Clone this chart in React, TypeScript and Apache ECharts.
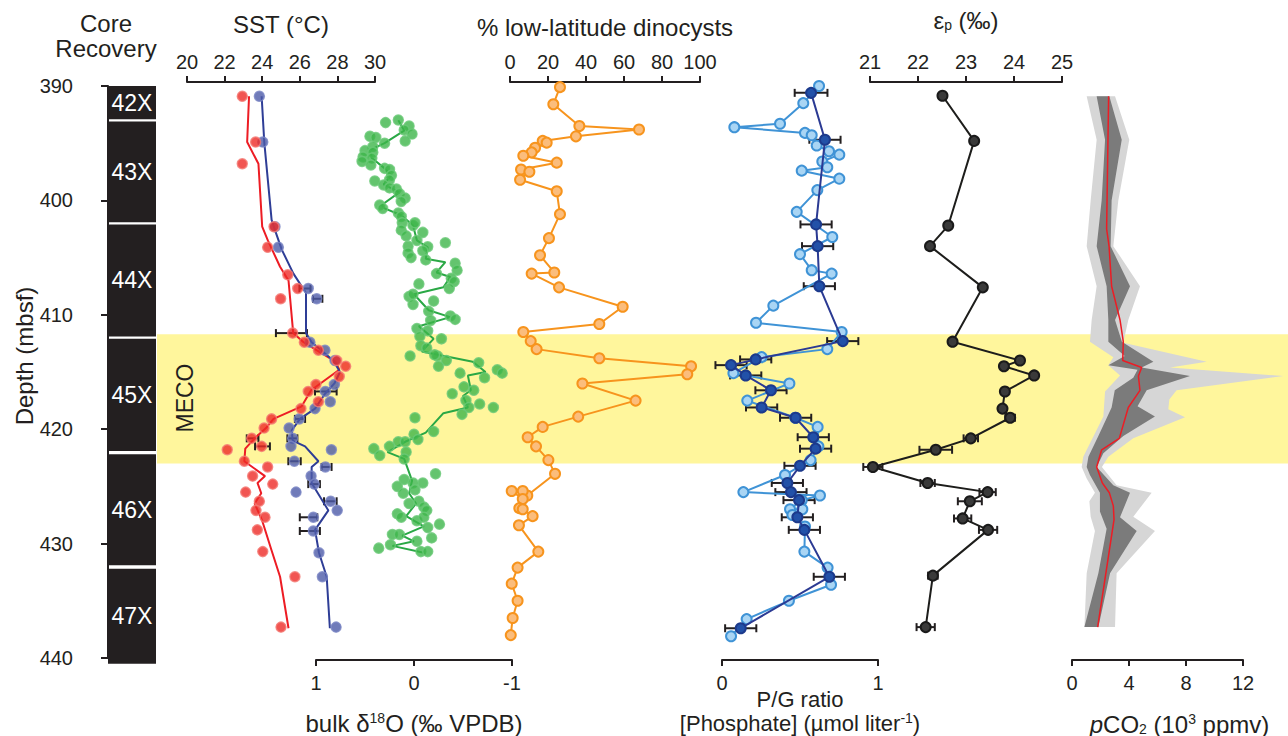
import { useEffect, useRef } from "react";
import * as echarts from "echarts";

const FONT = "'Liberation Sans', Arial, Helvetica, sans-serif";
const INK = "#231f20";

// ---------- depth scale ----------
const depthMin = 390;
const depthMax = 440;
const depthStep = 10;

// ---------- core recovery ----------
const coreLabels = ["42X", "43X", "44X", "45X", "46X", "47X"];
const coreTop = [390, 393.1, 402.1, 412.1, 422.2, 432.2];
const coreBottom = [392.9, 401.9, 411.9, 421.9, 431.9, 440.5];
const mecoDepths = [411.7, 423.0];

// ---------- SST (°C) [depth, value] ----------
const sstRedPoints = [
  [390.9, 22.94], [394.9, 23.65], [396.8, 22.94], [402.3, 24.63], [404.1, 24.29], [406.5, 25.36],
  [407.7, 25.89], [408.6, 24.98], [411.6, 25.62], [412.4, 26.24], [413.1, 26.99], [414.0, 27.96],
  [414.5, 28.44], [415.4, 28.1], [416.1, 26.86], [416.7, 26.45], [417.6, 26.99], [418.2, 26.06],
  [419.1, 24.5], [419.9, 24.1], [420.8, 23.44], [421.5, 23.97], [421.8, 22.14], [422.8, 23.05],
  [423.3, 24.29], [424.1, 23.49], [424.8, 24.56], [425.5, 23.12], [426.3, 23.85], [427.1, 23.67],
  [427.7, 24.15], [428.8, 23.74], [430.7, 24.03], [432.9, 25.74], [437.3, 25.0],
];
const sstRedLine = [
  [390.9, 23.3], [394.9, 23.2], [396.8, 23.8], [402.3, 24.0], [403.5, 24.3], [405.8, 24.95],
  [407.0, 25.4], [411.6, 25.65], [412.4, 26.2], [413.2, 27.0], [414.1, 27.9], [414.8, 28.1],
  [416.6, 26.6], [418.0, 26.1], [419.1, 24.6], [419.9, 24.2], [420.8, 23.6], [421.7, 23.1],
  [422.8, 23.05], [424.1, 24.15], [424.7, 23.75], [425.6, 23.95], [426.5, 23.6], [428.0, 24.0],
  [430.6, 24.5], [432.9, 24.95], [437.4, 25.4],
];
const sstRedErrors = [
  [411.6, 24.73, 26.38], [420.8, 23.18, 23.8], [421.5, 23.62, 24.41],
];
const sstBluePoints = [
  [390.9, 23.85], [394.9, 24.03], [402.3, 24.68], [404.1, 24.86], [407.7, 26.45], [408.6, 26.9],
  [412.4, 26.54], [413.1, 27.34], [414.0, 27.87], [416.1, 27.84], [416.7, 27.36], [417.6, 27.62],
  [418.2, 26.81], [419.1, 25.97], [419.9, 25.43], [420.8, 25.62], [421.5, 25.53], [421.8, 27.68],
  [422.8, 25.71], [423.3, 27.36], [424.1, 26.6], [424.8, 26.77], [425.5, 25.8], [426.3, 27.64],
  [427.1, 27.99], [427.7, 26.72], [428.9, 26.72], [430.8, 27.02], [432.9, 27.2], [437.3, 27.93],
];
const sstBlueLine = [
  [390.9, 23.97], [394.9, 24.11], [401.7, 24.5], [402.6, 24.68], [404.3, 25.04], [406.4, 25.66],
  [408.1, 26.33], [411.6, 26.33], [412.4, 26.63], [414.0, 27.78], [415.0, 28.14], [416.0, 27.84],
  [416.9, 27.34], [418.2, 26.81], [419.1, 26.01], [420.1, 25.57], [421.0, 25.62], [421.5, 26.28],
  [422.8, 26.99], [423.3, 26.63], [424.7, 26.63], [427.1, 27.52], [428.8, 26.81], [430.8, 27.02],
  [432.9, 27.43], [437.4, 27.6],
];
const sstBlueErrors = [
  [407.7, 25.98, 26.57], [408.6, 26.7, 27.2], [416.7, 26.81, 27.96], [419.1, 25.74, 26.28],
  [420.8, 25.34, 25.87], [422.8, 25.39, 26.05], [423.3, 27.16, 27.69], [424.8, 26.45, 27.07],
  [426.3, 27.29, 27.96], [427.7, 26.0, 26.93], [428.9, 26.0, 27.07],
];

// ---------- bulk d18O [depth, value] ----------
const d18oPoints = [
  [393.2, 0.29], [392.97, 0.16], [393.5, 0.05], [393.85, 0.1], [394.2, 0.02], [394.8, 0.09],
  [394.4, 0.45], [394.5, 0.39], [395.0, 0.3], [395.3, 0.42], [395.65, 0.5], [395.8, 0.42],
  [396.2, 0.52], [396.3, 0.43], [396.6, 0.53], [396.9, 0.44], [397.2, 0.3], [397.3, 0.25],
  [397.8, 0.23], [398.2, 0.25], [398.3, 0.4], [398.65, 0.31], [398.9, 0.25], [399.0, 0.18],
  [399.4, 0.15], [399.8, 0.09], [400.1, 0.13], [400.4, 0.35], [400.7, 0.32], [401.1, 0.16],
  [401.4, 0.13], [401.95, 0.12], [402.2, 0.01], [401.95, -0.01], [402.6, 0.13], [403.1, 0.08],
  [402.8, -0.09], [403.7, -0.32], [404.0, 0.06], [403.5, -0.03], [404.05, -0.14], [404.4, -0.09],
  [404.6, 0.06], [405.0, 0.03], [405.2, -0.12], [405.5, -0.42], [406.1, -0.44], [406.4, -0.23],
  [406.8, -0.38], [407.1, -0.41], [407.7, -0.36], [407.3, -0.05], [408.4, 0.05], [408.2, 0.01],
  [409.1, 0.01], [408.8, -0.2], [409.7, -0.15], [410.1, -0.37], [410.4, -0.42], [410.5, -0.17],
  [411.2, -0.03], [411.4, -0.14], [411.9, -0.06], [412.1, -0.28], [412.7, -0.07], [412.9, -0.13],
  [413.6, 0.04], [413.6, -0.24], [413.5, -0.21], [414.0, -0.33], [414.2, -0.66], [414.8, -0.85],
  [414.5, -0.25], [415.1, -0.9], [415.5, -0.72], [415.1, -0.47], [416.3, -0.51], [416.6, -0.61],
  [416.9, -0.39], [417.5, -0.53], [417.8, -0.67], [418.1, -0.56], [418.1, -0.81], [418.7, -0.49],
  [419.0, -0.01], [420.2, -0.2], [420.45, 0.0], [420.9, -0.04], [421.1, 0.16], [421.1, 0.09],
  [421.5, 0.25], [421.7, 0.41], [422.0, 0.08], [422.3, 0.35], [422.6, 0.1], [423.9, -0.22],
  [424.4, 0.1], [425.0, 0.17], [424.7, -0.09], [424.7, 0.01], [425.6, 0.11], [425.3, -0.01],
  [426.5, 0.05], [426.3, -0.05], [426.8, -0.1], [427.1, -0.13], [427.4, 0.17], [427.7, 0.13],
  [428.0, -0.03], [427.7, -0.1], [428.3, -0.26], [428.6, -0.14], [429.2, 0.22], [429.2, 0.15],
  [429.8, -0.03], [429.5, -0.18], [430.1, 0.24], [430.4, 0.36], [430.7, -0.07], [430.7, -0.14],
];
const d18oLine = [
  [393.0, 0.16], [393.9, 0.1], [395.0, 0.3], [395.6, 0.45], [396.3, 0.43], [397.2, 0.3],
  [397.8, 0.23], [398.6, 0.31], [399.3, 0.15], [400.4, 0.33], [400.7, 0.3], [401.3, 0.13],
  [402.2, 0.01], [403.5, -0.03], [404.1, -0.14], [405.1, -0.12], [405.4, -0.32], [406.3, -0.23],
  [406.7, -0.37], [407.6, -0.3], [408.2, 0.0], [409.6, -0.15], [410.2, -0.37], [411.0, -0.05],
  [412.1, -0.2], [413.2, -0.08], [414.1, -0.6], [415.0, -0.73], [415.3, -0.55], [416.6, -0.58],
  [417.1, -0.5], [418.1, -0.55], [418.6, -0.3], [420.3, -0.12], [421.1, 0.09], [422.0, 0.27],
  [422.6, 0.1], [424.5, 0.02], [425.6, 0.05], [426.5, -0.02], [427.6, 0.08], [428.5, -0.1],
  [429.3, 0.12], [429.8, 0.0], [430.2, 0.22], [430.8, -0.1],
];

// ---------- % low-latitude dinocysts [depth, value] ----------
const dinocysts = [
  [390.1, 26.3], [391.6, 22.8], [393.5, 36.5], [393.8, 67.9], [394.4, 34.7], [394.8, 17.2],
  [394.95, 19.3], [395.4, 13.2], [395.8, 11.4], [396.1, 7.0], [396.7, 24.6], [397.3, 5.8],
  [397.5, 10.2], [398.2, 5.3], [399.2, 24.6], [401.2, 26.3], [403.3, 20.5], [404.8, 15.8],
  [406.3, 23.3], [406.4, 11.4], [407.6, 25.8], [409.3, 59.3], [410.8, 47.0], [411.5, 7.0],
  [412.3, 10.9], [413.0, 14.0], [413.8, 47.0], [414.5, 95.3], [415.2, 93.3], [416.0, 38.1],
  [417.5, 66.1], [418.9, 35.9], [419.8, 17.2], [420.7, 9.3], [421.5, 13.7], [422.7, 20.2],
  [423.9, 23.7], [425.8, 9.1], [425.4, 6.7], [425.4, 0.9], [426.1, 6.7], [426.9, 4.9],
  [427.0, 6.7], [427.6, 11.9], [428.4, 4.7], [430.7, 14.9], [432.1, 4.0], [433.5, 0.9],
  [435.0, 4.0], [436.5, 1.4], [438.0, 0.4],
];

// ---------- P/G ratio and [phosphate] [depth, value] ----------
const pgRatio = [
  [390.0, 0.622], [391.5, 0.521], [393.3, 0.372], [393.6, 0.079], [394.1, 0.532], [394.3, 0.575],
  [395.2, 0.607], [395.7, 0.686], [396.0, 0.752], [396.6, 0.643], [397.1, 0.675], [397.4, 0.511],
  [398.1, 0.752], [399.1, 0.611], [401.0, 0.479], [403.2, 0.707], [404.7, 0.5], [406.1, 0.575],
  [406.4, 0.703], [409.2, 0.329], [410.7, 0.218], [411.5, 0.767], [413.0, 0.675], [413.7, 0.254],
  [415.1, 0.073], [416.0, 0.432], [417.5, 0.162], [419.0, 0.47], [419.8, 0.613], [421.5, 0.618],
  [422.7, 0.568], [424.0, 0.404], [425.5, 0.137], [425.8, 0.628], [426.2, 0.511], [427.0, 0.436],
  [427.0, 0.515], [427.5, 0.451], [428.5, 0.532], [430.7, 0.528], [432.1, 0.677], [433.6, 0.699],
  [435.0, 0.429], [436.6, 0.158], [438.1, 0.058],
];
const phosphate = [
  [390.6, 0.571], [394.7, 0.66], [402.1, 0.603], [404.0, 0.613], [407.5, 0.624], [412.3, 0.774],
  [413.9, 0.216], [414.4, 0.058], [415.3, 0.152], [416.6, 0.314], [418.1, 0.254], [419.0, 0.472],
  [420.7, 0.585], [421.7, 0.6], [423.2, 0.5], [424.7, 0.419], [425.5, 0.442], [426.2, 0.494],
  [427.7, 0.483], [428.8, 0.528], [432.9, 0.688], [437.4, 0.12],
];
const phosphateError = [
  0.105, 0.1, 0.1, 0.1, 0.1, 0.1, 0.1, 0.1, 0.1, 0.1, 0.1, 0.1,
  0.1, 0.1, 0.1, 0.1, 0.1, 0.1, 0.1, 0.1, 0.1, 0.1,
];

// ---------- εp (‰) [depth, value] ----------
const epsilonP = [
  [390.85, 22.51], [394.8, 23.17], [402.2, 22.63], [404.0, 22.25], [407.6, 23.35], [412.35, 22.72],
  [414.0, 24.125], [414.5, 23.79], [415.3, 24.42], [416.7, 23.81], [418.2, 23.76], [419.0, 23.92],
  [420.8, 23.1], [421.8, 22.37], [423.3, 21.06], [424.7, 22.2], [425.5, 23.45], [426.3, 23.08],
  [427.8, 22.93], [428.8, 23.46], [432.8, 22.31], [437.3, 22.16],
];
const epsilonPError = [
  0, 0, 0, 0, 0, 0, 0, 0, 0, 0, 0, 0.1,
  0.15, 0.34, 0.2, 0.15, 0.17, 0.25, 0.18, 0.19, 0.1, 0.19,
];

// ---------- pCO2 (10^3 ppmv) [depth, value] ----------
const pco2OuterLeft = [
  [390.9, 1.03], [394.7, 1.73], [400.0, 1.31], [404.0, 1.03], [407.5, 1.73], [410.45, 1.38],
  [412.35, 1.26], [413.7, 2.9], [414.4, 2.55], [415.3, 3.37], [416.7, 2.32], [418.9, 2.2],
  [422.4, 0.79], [423.3, 0.68], [424.3, 1.03], [425.55, 1.61], [426.3, 1.22], [427.65, 1.31],
  [428.9, 1.61], [432.6, 1.03], [437.3, 0.87],
];
const pco2OuterRight = [
  [390.9, 3.02], [394.7, 4.02], [400.0, 3.25], [404.0, 2.9], [407.5, 4.77], [410.45, 3.95],
  [412.45, 3.6], [414.1, 9.45], [414.6, 6.88], [415.35, 14.83], [416.6, 7.34], [417.4, 6.83],
  [418.25, 6.76], [418.95, 7.93], [420.8, 4.3], [422.4, 2.55], [423.3, 2.1], [424.9, 3.13],
  [425.55, 5.59], [427.65, 4.3], [428.9, 5.82], [432.6, 3.13], [437.3, 3.02],
];
const pco2InnerLeft = [
  [390.9, 1.73], [394.7, 2.32], [400.0, 2.08], [404.0, 1.73], [407.5, 2.43], [410.45, 2.55],
  [412.35, 2.55], [413.6, 3.7], [414.4, 2.55], [414.8, 4.6], [415.5, 4.3], [416.6, 3.0],
  [418.1, 2.78], [420.6, 1.85], [422.4, 1.15], [423.3, 1.03], [424.0, 1.26], [425.55, 1.96],
  [427.2, 1.96], [428.7, 2.43], [432.6, 1.85], [437.3, 0.87],
];
const pco2InnerRight = [
  [390.9, 2.62], [394.7, 3.49], [400.0, 2.78], [404.0, 2.71], [407.5, 4.07], [410.45, 3.02],
  [412.35, 3.5], [414.1, 5.71], [414.6, 4.89], [415.35, 8.28], [416.6, 5.24], [418.0, 4.6],
  [418.9, 5.82], [420.6, 3.6], [422.1, 2.2], [423.3, 1.73], [424.9, 2.9], [425.55, 4.07],
  [427.7, 3.37], [428.9, 4.54], [432.6, 2.67], [437.3, 1.85],
];
const pco2Median = [
  [390.9, 2.57], [402.5, 2.43], [404.0, 2.6], [407.5, 2.78], [410.45, 3.37], [412.35, 3.6],
  [414.0, 3.56], [414.6, 4.89], [415.35, 4.66], [416.6, 4.77], [418.1, 3.95], [420.8, 3.32],
  [421.8, 2.08], [423.3, 1.73], [424.7, 2.13], [425.55, 2.62], [426.7, 2.9], [427.9, 2.95],
  [437.3, 1.8],
];

// ---------- helpers ----------
const flip = (arr: number[][]) => arr.map(([d, v]) => [v, d]);

const baseText = { fontFamily: FONT, color: INK };
const TICK_FONT = 20;
const NAME_FONT = 24;

const richStyles = (size: number, lh: number) => ({
  sup: { fontFamily: FONT, color: INK, fontSize: 14, lineHeight: 13, verticalAlign: "top" },
  sub: { fontFamily: FONT, color: INK, fontSize: 14, lineHeight: 12, verticalAlign: "bottom" },
  it: { fontFamily: FONT, color: INK, fontSize: size, fontStyle: "italic", lineHeight: lh },
});

const hiddenX = (gridIndex: number) => ({
  type: "value", gridIndex, min: 0, max: 1, show: false,
});

const depthY = (gridIndex: number) => ({
  type: "value", gridIndex, min: depthMin, max: depthMax, interval: depthStep,
  inverse: true, show: false, splitLine: { show: false },
});

const valueX = (
  gridIndex: number, position: "top" | "bottom", min: number, max: number, interval: number,
  name: string, nameGap: number, extra: any = {}
) => ({
  type: "value", gridIndex, position, min, max, interval,
  offset: position === "top" ? 4 : 2,
  splitLine: { show: false },
  axisLine: { show: true, onZero: false, lineStyle: { color: INK, width: 2 } },
  axisTick: { show: true, length: 6, lineStyle: { color: INK, width: 2 } },
  axisLabel: { ...baseText, fontSize: TICK_FONT, margin: position === "top" ? 10 : 13 },
  name, nameLocation: "middle", nameGap, nameMoveOverlap: false,
  nameTextStyle: {
    ...baseText, fontSize: NAME_FONT, lineHeight: 24, rich: richStyles(NAME_FONT, 24),
  },
  ...extra,
});

const errorBarRender = (params: any, api: any) => {
  const d = api.value(0);
  const p1 = api.coord([api.value(1), d]);
  const p2 = api.coord([api.value(2), d]);
  const cap = 4;
  const style = { stroke: INK, lineWidth: 2 };
  return {
    type: "group",
    children: [
      { type: "line", shape: { x1: p1[0], y1: p1[1], x2: p2[0], y2: p2[1] }, style },
      { type: "line", shape: { x1: p1[0], y1: p1[1] - cap, x2: p1[0], y2: p1[1] + cap }, style },
      { type: "line", shape: { x1: p2[0], y1: p2[1] - cap, x2: p2[0], y2: p2[1] + cap }, style },
    ],
  };
};

const errorSeries = (axisIndex: number, data: number[][]) => ({
  type: "custom", xAxisIndex: axisIndex, yAxisIndex: axisIndex,
  renderItem: errorBarRender, data, encode: { x: [1, 2], y: 0 }, z: 3, silent: true,
});

const polygonSeries = (axisIndex: number, left: number[][], right: number[][], fill: string, z: number) => ({
  type: "custom", xAxisIndex: axisIndex, yAxisIndex: axisIndex, z, silent: true, clip: false,
  data: [[left[0][1], left[0][0]]], encode: { x: 0, y: 1 },
  renderItem: (params: any, api: any) => {
    const pts = left.map(([d, v]) => api.coord([v, d]))
      .concat(right.slice().reverse().map(([d, v]) => api.coord([v, d])));
    return { type: "polygon", shape: { points: pts }, style: { fill } };
  },
});

const dotLine = (axisIndex: number, data: number[][], lineColor: string, fill: string, border: string, z = 4) => ({
  type: "line", xAxisIndex: axisIndex, yAxisIndex: axisIndex, data: flip(data),
  symbol: "circle", symbolSize: 10, showSymbol: true, z, silent: true, clip: false,
  lineStyle: { color: lineColor, width: 2 },
  itemStyle: { color: fill, borderColor: border, borderWidth: 2 },
});

const plainLine = (axisIndex: number, data: number[][], color: string, width = 2, z = 3) => ({
  type: "line", xAxisIndex: axisIndex, yAxisIndex: axisIndex, data: flip(data),
  showSymbol: false, symbol: "none", z, silent: true, clip: false,
  lineStyle: { color, width },
});

const dots = (axisIndex: number, data: number[][], fill: string, border: string, z = 4) => ({
  type: "scatter", xAxisIndex: axisIndex, yAxisIndex: axisIndex, data: flip(data),
  symbol: "circle", symbolSize: 10, z, silent: true, clip: false,
  itemStyle: { color: fill, borderColor: border, borderWidth: 1.5 },
});

export default function App() {
  const ref = useRef<HTMLDivElement>(null);

  useEffect(() => {
    document.body.style.margin = "0";
    if (!ref.current) return;
    const chart = echarts.init(ref.current, null, { renderer: "svg" });

    const gridDefs = [
      { left: 108, width: 48 }, // core recovery
      { left: 157, width: 1131 }, // MECO band
      { left: 187, width: 188 }, // SST
      { left: 316, width: 196 }, // d18O
      { left: 510, width: 190 }, // dinocysts
      { left: 722, width: 156 }, // P/G
      { left: 870, width: 192 }, // εp
      { left: 1072, width: 171 }, // pCO2
    ];
    const grid = gridDefs.map((g) => ({
      left: g.left, width: g.width, top: 86, height: 572,
      containLabel: false, outerBoundsMode: "none", show: false,
    }));

    const yAxis: any[] = gridDefs.map((_, i) => depthY(i));
    yAxis[0] = {
      ...depthY(0), show: true, position: "left", offset: 22,
      axisLine: { show: true, lineStyle: { color: INK, width: 2 } },
      axisTick: { show: true, length: 7, lineStyle: { color: INK, width: 2 } },
      axisLabel: { ...baseText, fontSize: TICK_FONT, margin: 13 },
      name: "Depth (mbsf)", nameLocation: "middle", nameGap: 50, nameRotate: 90,
      nameMoveOverlap: false,
      nameTextStyle: { ...baseText, fontSize: NAME_FONT, padding: [0, 0, 0, 32] },
    };

    const xAxis: any[] = [
      hiddenX(0),
      hiddenX(1),
      valueX(2, "top", 20, 30, 2, "SST (°C)", 46),
      valueX(3, "bottom", -1, 1, 1, "bulk δ{sup|18}O (‰ VPDB)", 51, { inverse: true }),
      valueX(4, "top", 0, 100, 20, "% low-latitude dinocysts", 43),
      valueX(5, "bottom", 0, 1, 1, "P/G ratio\n[Phosphate] (µmol liter{sup|-1})", 27),
      valueX(6, "top", 21, 25, 1, "ε{sub|p} (‰)", 50),
      valueX(7, "bottom", 0, 12, 4, "{it|p}CO{sub|2} (10{sup|3} ppmv)", 52),
    ];
    xAxis[5].nameTextStyle = {
      ...baseText, fontSize: 22, lineHeight: 24, rich: richStyles(22, 24),
    };
    xAxis[7].nameTextStyle = { ...xAxis[7].nameTextStyle, padding: [0, 0, 0, 44] };

    const coreData = coreLabels.map((_, i) => [0.5, coreTop[i], coreBottom[i]]);

    const series: any[] = [
      {
        type: "custom", xAxisIndex: 1, yAxisIndex: 1, z: 0, silent: true, clip: false,
        data: [[0.5, mecoDepths[0], mecoDepths[1]]], encode: { x: 0, y: [1, 2] },
        renderItem: (params: any, api: any) => {
          const cs = params.coordSys;
          const a = api.coord([0.5, api.value(1)]);
          const b = api.coord([0.5, api.value(2)]);
          return {
            type: "rect",
            shape: { x: cs.x, y: a[1], width: cs.width, height: b[1] - a[1] },
            style: { fill: "#fff69c" },
          };
        },
      },
      {
        type: "custom", xAxisIndex: 0, yAxisIndex: 0, z: 2, silent: true, clip: false,
        data: coreData, encode: { x: 0, y: [1, 2] },
        renderItem: (params: any, api: any) => {
          const cs = params.coordSys;
          const a = api.coord([0.5, api.value(1)]);
          const b = api.coord([0.5, api.value(2)]);
          return {
            type: "group",
            children: [
              { type: "rect", shape: { x: cs.x, y: a[1], width: cs.width, height: b[1] - a[1] }, style: { fill: INK } },
              {
                type: "text",
                style: {
                  text: coreLabels[params.dataIndex], x: cs.x + cs.width / 2, y: (a[1] + b[1]) / 2,
                  align: "center", verticalAlign: "middle", textAlign: "center", textVerticalAlign: "middle",
                  fill: "#ffffff", fontSize: 23, fontFamily: FONT,
                },
              },
            ],
          };
        },
      },
      // SST
      plainLine(2, sstRedLine, "#ed1c24"),
      plainLine(2, sstBlueLine, "#2e3d96"),
      errorSeries(2, sstRedErrors),
      errorSeries(2, sstBlueErrors),
      dots(2, sstBluePoints, "#4c5aa8", "#7b86c4"),
      dots(2, sstRedPoints, "#ee2a27", "#f47a74"),
      // d18O
      plainLine(3, d18oLine, "#2aa845"),
      dots(3, d18oPoints, "#3db54a", "#6cc978"),
      // dinocysts
      dotLine(4, dinocysts, "#f7941d", "#fbbd7c", "#f7941d"),
      // P/G and phosphate
      dotLine(5, pgRatio, "#3f93d6", "#a9d5f4", "#3f93d6"),
      errorSeries(5, phosphate.map(([d, v], i) => [d, v - phosphateError[i], v + phosphateError[i]])),
      dotLine(5, phosphate, "#2b3a93", "#2251a8", "#1c3a8c", 5),
      // εp
      errorSeries(6, epsilonP.filter((_, i) => epsilonPError[i] > 0)
        .map(([d, v]) => {
          const i = epsilonP.findIndex((p) => p[0] === d);
          return [d, v - epsilonPError[i], v + epsilonPError[i]];
        })),
      dotLine(6, epsilonP, "#1d1d1b", "#3a3a3a", "#1a1a1a"),
      // pCO2
      polygonSeries(7, pco2OuterLeft, pco2OuterRight, "#d6d6d6", 1),
      polygonSeries(7, pco2InnerLeft, pco2InnerRight, "#7b7b7b", 2),
      plainLine(7, pco2Median, "#ed1c24", 1.5, 3),
    ];

    chart.setOption({
      animation: false,
      backgroundColor: "#ffffff",
      textStyle: { fontFamily: FONT },
      grid,
      xAxis,
      yAxis,
      series,
      graphic: [
        {
          type: "text", x: 106, y: 11, z: 10,
          style: {
            text: "Core\nRecovery", fontSize: NAME_FONT, lineHeight: 25, fontFamily: FONT, fill: INK,
            align: "center", textAlign: "center",
          },
        },
        {
          type: "text", x: 185, y: 398, rotation: Math.PI / 2, z: 10,
          style: {
            text: "MECO", fontSize: 23, fontFamily: FONT, fill: INK,
            align: "center", verticalAlign: "middle", textAlign: "center", textVerticalAlign: "middle",
          },
        },
      ],
    });

    return () => chart.dispose();
  }, []);

  return (
    <div
      ref={ref}
      style={{ position: "absolute", left: 0, top: 0, width: 1288, height: 736, background: "#fff" }}
    />
  );
}
